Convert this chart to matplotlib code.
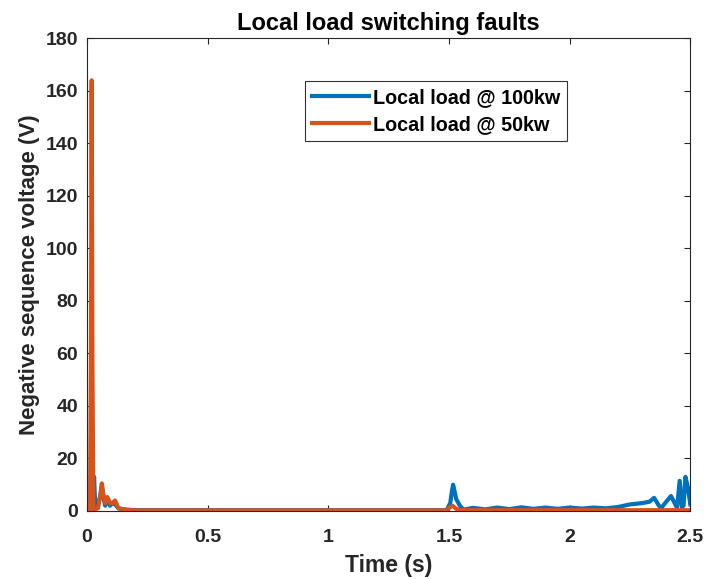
import matplotlib.pyplot as plt

plt.rcParams['font.family'] = ['Liberation Sans', 'DejaVu Sans']
plt.rcParams['font.weight'] = 'bold'

# Local load @ 100kw (blue)
t_100 = [0.0, 0.012, 0.018, 0.024, 0.029, 0.034, 0.045, 0.055, 0.061, 0.068, 0.075, 0.084,
         0.095, 0.105, 0.116, 0.13, 0.16, 0.2, 0.5, 1.0, 1.49, 1.505, 1.512, 1.517, 1.522,
         1.53, 1.545, 1.56, 1.6, 1.65, 1.7, 1.75, 1.8, 1.85, 1.9, 1.95, 2.0, 2.05, 2.1, 2.15,
         2.2, 2.25, 2.3, 2.33, 2.35, 2.37, 2.38, 2.40, 2.42, 2.435, 2.445, 2.456, 2.465,
         2.472, 2.48, 2.49, 2.5]
v_100 = [0.0, 2.0, 14.0, 1.0, 13.0, 1.0, 2.0, 6.0, 9.5, 5.0, 2.0, 4.5, 2.0, 3.0, 2.5, 1.0,
         0.5, 0.3, 0.3, 0.3, 0.3, 3.0, 7.5, 10.0, 8.0, 4.5, 2.0, 0.5, 1.2, 0.6, 1.3, 0.7, 1.4,
         0.8, 1.3, 0.8, 1.3, 0.9, 1.3, 1.0, 1.5, 2.5, 3.0, 3.5, 5.0, 2.0, 1.2, 3.5, 5.7, 3.0,
         1.2, 11.5, 1.5, 2.0, 13.0, 9.0, 2.5]

# Local load @ 50kw (orange)
t_50 = [0.0, 0.012, 0.016, 0.019, 0.022, 0.026, 0.045, 0.055, 0.061, 0.068, 0.075, 0.084,
        0.095, 0.105, 0.116, 0.13, 0.16, 0.2, 0.5, 1.0, 1.49, 1.505, 1.515, 1.53, 1.55, 2.0,
        2.5]
v_50 = [0.0, 0.5, 60.0, 164.0, 60.0, 0.5, 1.0, 6.0, 10.5, 6.0, 3.0, 5.3, 3.0, 3.0, 4.0,
        1.0, 0.5, 0.2, 0.2, 0.2, 0.2, 1.5, 2.0, 0.8, 0.3, 0.3, 0.3]

fig = plt.figure(figsize=(7.08, 5.8), dpi=100)
ax = fig.add_axes([0.123, 0.119, 0.852, 0.815])

ax.plot(t_100, v_100, color='#0072BD', linewidth=3, label='Local load @ 100kw')
ax.plot(t_50, v_50, color='#D95319', linewidth=3, label='Local load @ 50kw')

ax.set_xlim(0, 2.5)
ax.set_ylim(0, 180)
ax.set_xticks([0, 0.5, 1, 1.5, 2, 2.5])
ax.set_xticklabels(['0', '0.5', '1', '1.5', '2', '2.5'])
ax.set_yticks(range(0, 181, 20))
ax.tick_params(direction='in', top=True, right=True, labelsize=14, length=4.5, width=0.8,
               colors='#262626', labelcolor='#262626')
ax.tick_params(axis='x', pad=13)
ax.tick_params(axis='y', pad=6.5)
for s in ax.spines.values():
    s.set_linewidth(0.8)
    s.set_color('#262626')

ax.set_xlabel('Time (s)', fontsize=16.5, fontweight='bold', color='#262626', labelpad=6)
ax.set_ylabel('Negative sequence voltage (V)', fontsize=16, fontweight='bold', color='#262626')
ax.set_title('Local load switching faults', fontsize=17, fontweight='bold')

leg = ax.legend(loc='upper left', bbox_to_anchor=(0.361, 0.909), fontsize=14.2,
                handlelength=2.9, handletextpad=0.2, borderpad=0.35, labelspacing=0.4,
                fancybox=False, framealpha=1, edgecolor='#333333', borderaxespad=0)
leg.get_frame().set_linewidth(0.8)

fig.savefig('out.png', dpi=100)
